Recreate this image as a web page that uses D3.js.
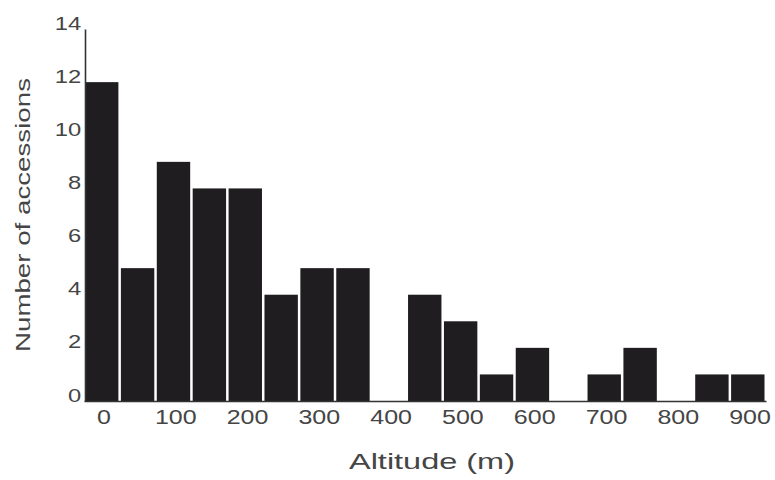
<!DOCTYPE html>
<html lang="en"><head>
<meta charset="utf-8">
<title>Altitude</title>
<script src="https://cdn.jsdelivr.net/npm/d3@7"></script>
<style>
body { margin: 0; background: #fff; }
text { font-family: "Liberation Sans", Arial, sans-serif; fill: #454545; }
</style>
</head>
<body>
<script type="text/javascript">

// histogram bins (m) and number of accessions
var altitudes = [0, 50, 100, 150, 200, 250, 300, 350, 400, 450, 500, 550, 600, 650, 700, 750, 800, 850, 900];
var counts    = [12, 5, 9, 8, 8, 4, 5, 5, 0, 4, 3, 1, 2, 0, 1, 2, 0, 1, 1];
var xTicks = [0, 100, 200, 300, 400, 500, 600, 700, 800, 900];
var yTicks = [0, 2, 4, 6, 8, 10, 12, 14];

var width = 775;
var height = 480;
var binWidth = 50;

var svg = d3.select("body").append("svg")
            .attr("width", width)
            .attr("height", height);

var x = d3.scaleLinear()
          .domain([-binWidth / 2, 900 + binWidth / 2])
          .range([84, 766]);

var y = d3.scaleLinear()
          .domain([0, 14])
          .range([401, 29]);

// bars
svg.selectAll("rect.bar")
    .data(altitudes)
    .enter()
    .append("rect")
    .attr("class", "bar")
    .attr("x", function(d){ return x(d - binWidth / 2) + 1; })
    .attr("width", function(d){ return x(d + binWidth / 2) - x(d - binWidth / 2) - 2.5; })
    .attr("y", function(d, i){ return y(counts[i]); })
    .attr("height", function(d, i){ return y(0) - y(counts[i]); })
    .attr("fill", "#1f1d1f");

// x axis
var xAxis = svg.append("g")
    .attr("transform", "translate(0," + y(0) + ")")
    .call(d3.axisBottom(x).tickValues(xTicks).tickSize(0).tickPadding(7));
xAxis.select(".domain").attr("stroke", "#333").attr("stroke-width", 1.6);
xAxis.selectAll("text")
    .attr("font-size", 20)
    .attr("dy", "0.8em")
    .attr("transform", "scale(1.25,1)");
xAxis.selectAll(".tick").attr("transform", function(d){ return "translate(" + (x(d) + 2) + ",0)"; });

// y axis
var yAxis = svg.append("g")
    .attr("transform", "translate(" + (x(-binWidth / 2) + 1) + ",0)")
    .call(d3.axisLeft(y).tickValues(yTicks).tickSize(0).tickPadding(3));
yAxis.select(".domain").attr("stroke", "#333").attr("stroke-width", 1.6);
yAxis.selectAll("text")
    .attr("font-size", 19)
    .attr("dy", "0.0em")
    .attr("transform", "scale(1.25,1)");

// axis titles
svg.append("text")
    .attr("x", 432)
    .attr("y", 469)
    .attr("text-anchor", "middle")
    .attr("font-size", 22)
    .attr("textLength", 166)
    .attr("lengthAdjust", "spacingAndGlyphs")
    .text("Altitude (m)");

svg.append("text")
    .attr("transform", "translate(30,215) rotate(-90)")
    .attr("text-anchor", "middle")
    .attr("font-size", 21)
    .attr("textLength", 274)
    .attr("lengthAdjust", "spacingAndGlyphs")
    .text("Number of accessions");

</script>
</body></html>
